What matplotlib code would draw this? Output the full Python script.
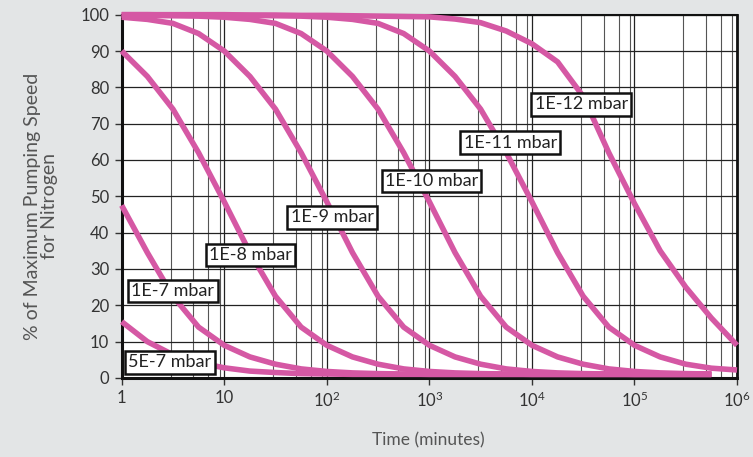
"""
Pumping speed for nitrogen versus time, one curve per pressure.
"""
import matplotlib
matplotlib.use("Agg")
import matplotlib.pyplot as plt
from matplotlib.ticker import FixedLocator, FixedFormatter, NullFormatter

plt.rcParams["font.family"] = ["Lato", "DejaVu Sans"]
plt.rcParams["mathtext.fontset"] = "custom"
plt.rcParams["mathtext.rm"] = "Lato"
plt.rcParams["mathtext.default"] = "regular"

# time axis, quarter decades (minutes)
time_min = [1, 1.78, 3.16, 5.62, 10, 17.8, 31.6, 56.2, 100, 178, 316, 562,
            1e3, 1.78e3, 3.16e3, 5.62e3, 1e4, 1.78e4, 3.16e4, 5.62e4,
            1e5, 1.78e5, 3.16e5, 5.62e5, 1e6]

# % of maximum pumping speed
speed_5e7 = [15.5, 10.0, 6.4, 4.2, 2.8, 1.9, 1.5, 1.2, 1.1, 1.0, 1.0, 1.0,
             1.0, 1.0, 1.0, 1.0, 1.0, 1.0, 1.0, 1.0, 1.0, 1.0, 1.0, 1.0]
speed_1e7 = [47.5, 34.5, 22.5, 14.0, 9.0, 5.8, 3.8, 2.5, 1.8, 1.4, 1.2, 1.1,
             1.0, 1.0, 1.0, 1.0, 1.0, 1.0, 1.0, 1.0, 1.0, 1.0, 1.0, 1.0]
speed_1e8 = [90.0, 83.0, 74.0, 62.0, 48.5, 34.5, 22.5, 14.0, 9.0, 5.8, 3.8, 2.5,
             1.8, 1.4, 1.2, 1.1, 1.0, 1.0, 1.0, 1.0, 1.0, 1.0, 1.0, 1.0]
speed_1e9 = [99.3, 98.7, 97.6, 94.8, 90.0, 83.0, 74.0, 62.0, 48.5, 34.5, 22.5, 14.0,
             9.0, 5.8, 3.8, 2.5, 1.8, 1.4, 1.2, 1.1, 1.0, 1.0, 1.0, 1.0]
speed_1e10 = [99.8, 99.8, 99.7, 99.6, 99.3, 98.7, 97.6, 94.8, 90.0, 83.0, 74.0, 62.0,
              48.5, 34.5, 22.5, 14.0, 9.0, 5.8, 3.8, 2.5, 1.8, 1.4, 1.2, 1.1]
speed_1e11 = [100.0, 100.0, 99.9, 99.9, 99.8, 99.8, 99.7, 99.6, 99.3, 98.7, 97.6, 94.8,
              90.0, 83.0, 74.0, 62.0, 48.5, 34.5, 22.5, 14.0, 9.0, 5.8, 3.8, 2.7, 2.2]
speed_1e12 = [100.0, 100.0, 100.0, 100.0, 100.0, 99.9, 99.9, 99.8, 99.8, 99.7, 99.6, 99.5,
              99.4, 98.8, 97.8, 95.5, 92.0, 87.0, 77.5, 62.0, 48.0, 35.0, 25.0, 16.5, 9.0]

curves = [speed_5e7, speed_1e7, speed_1e8, speed_1e9, speed_1e10, speed_1e11, speed_1e12]

# label text and where its box sits (time, %)
label_text = ["5E-7 mbar", "1E-7 mbar", "1E-8 mbar", "1E-9 mbar",
              "1E-10 mbar", "1E-11 mbar", "1E-12 mbar"]
label_t = [2.96, 3.15, 18, 113, 1050, 6140, 30200]
label_y = [4.3, 24.0, 33.8, 44.2, 54.2, 64.8, 75.3]

decades = [1, 10, 100, 1e3, 1e4, 1e5, 1e6]
decade_labels = ["1", "10", "$10^{2}$", "$10^{3}$", "$10^{4}$", "$10^{5}$", "$10^{6}$"]

PINK = "#d558a4"

fig = plt.figure(figsize=(7.53, 4.57), dpi=100, facecolor="#e3e5e6")
ax = fig.add_axes([0.1616, 0.1729, 0.8172, 0.795])
ax.set_facecolor("white")

ax.set_xscale("log")
ax.set_xlim(1, 1e6)
ax.set_ylim(0, 100)

minor = [m * d for d in decades[:-1] for m in (3, 5, 7, 9)]
ax.xaxis.set_major_locator(FixedLocator(decades))
ax.xaxis.set_major_formatter(FixedFormatter(decade_labels))
ax.xaxis.set_minor_locator(FixedLocator(minor))
ax.xaxis.set_minor_formatter(NullFormatter())
ax.set_yticks(range(0, 101, 10))

ax.grid(which="major", color="#222222", lw=0.9)
ax.grid(which="minor", axis="x", color="#555555", lw=0.8)
ax.set_axisbelow(True)

ax.tick_params(which="major", direction="out", length=5, width=1, color="#333333",
               labelsize=12, labelcolor="#333333", pad=4)
ax.tick_params(which="minor", length=0)

for side, lw in (("left", 2.2), ("bottom", 2.2), ("right", 2.0), ("top", 1.5)):
    ax.spines[side].set_color("#111111")
    ax.spines[side].set_linewidth(lw)

for vals in curves:
    ax.plot(time_min[:len(vals)], vals, color=PINK, lw=4.0,
            solid_capstyle="butt", solid_joinstyle="round", clip_on=False, zorder=3)

for txt, t, y in zip(label_text, label_t, label_y):
    ax.text(t, y, txt, ha="center", va="center", fontsize=13, color="#222222",
            zorder=5, bbox=dict(boxstyle="square,pad=0.18", fc="white",
                                ec="#111111", lw=1.8))

fig.text(41 / 753, 1 - 206 / 457, "% of Maximum Pumping Speed\nfor Nitrogen",
         rotation=90, ha="center", va="center", multialignment="center",
         fontsize=14, color="#555555", linespacing=1.05)
fig.text(428 / 753, 1 - 440 / 457, "Time (minutes)", ha="center", va="center",
         fontsize=12.5, color="#555555")

fig.savefig("out.png", dpi=100, facecolor=fig.get_facecolor())
